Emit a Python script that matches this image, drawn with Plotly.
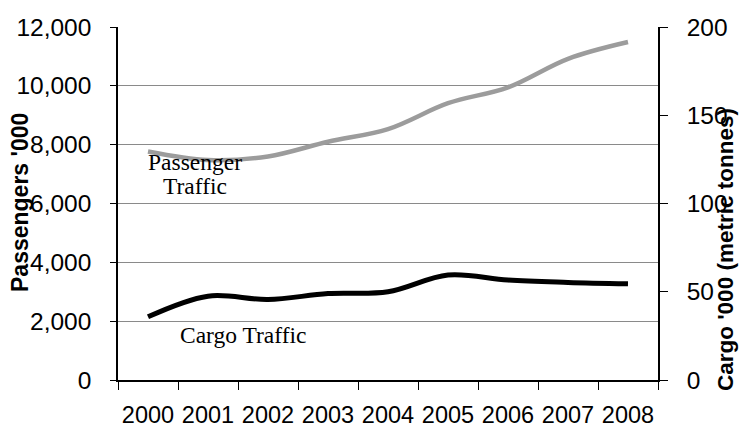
import plotly.graph_objects as go

years = ["2000", "2001", "2002", "2003", "2004", "2005", "2006", "2007", "2008"]
passengers = [7770, 7480, 7600, 8100, 8530, 9410, 9950, 10920, 11490]   # '000
cargo = [35.8, 47.5, 45.6, 49.0, 50.0, 59.5, 56.6, 55.3, 54.5]          # '000 metric tonnes

title_text = "Airport Traffic (2000-2008)"
left_title = "Passengers '000"
right_title = "Cargo '000 (metric tonnes)"

W, H = 739, 429
ML, MR, MT, MB = 118, 81, 27, 49
PW, PH = W - ML - MR, H - MT - MB

def px(x):
    return (x - ML) / PW

def py(y):
    return (H - MB - y) / PH

sans = "Liberation Sans, Arial, sans-serif"
serif = "Liberation Serif, Times New Roman, serif"

fig = go.Figure()
fig.add_trace(go.Scatter(
    x=years, y=passengers, mode="lines", name="Passenger Traffic",
    line=dict(color="#9c9c9c", width=4.5, shape="spline", smoothing=1.0),
    yaxis="y", showlegend=False, hoverinfo="skip"))
fig.add_trace(go.Scatter(
    x=years, y=cargo, mode="lines", name="Cargo Traffic",
    line=dict(color="#000000", width=5, shape="spline", smoothing=1.0),
    yaxis="y2", showlegend=False, hoverinfo="skip"))

fig.update_layout(
    width=W, height=H,
    margin=dict(l=ML, r=MR, t=MT, b=MB, pad=0, autoexpand=False),
    paper_bgcolor="white", plot_bgcolor="white",
    font=dict(family=sans, color="black"),
    xaxis=dict(type="category", range=[-0.5, 8.5], tickson="boundaries",
               ticks="outside", ticklen=8, tickwidth=1.2, tickcolor="black",
               showline=True, linecolor="black", linewidth=1.5,
               showgrid=False, zeroline=False, automargin=False, tickangle=0,
               tickfont=dict(size=23.5, family=sans), ticklabelstandoff=13),
    yaxis=dict(range=[0, 12000], dtick=2000, tickformat=",",
               ticks="outside", ticklen=6, tickwidth=1.2, tickcolor="black",
               showline=True, linecolor="black", linewidth=1.5, automargin=False,
               showgrid=True, gridcolor="#8a8a8a", gridwidth=1, zeroline=False,
               tickfont=dict(size=24.5, family=sans), ticklabelstandoff=14),
    yaxis2=dict(range=[0, 200], dtick=50, overlaying="y", side="right",
                ticks="outside", ticklen=8, tickwidth=1.2, tickcolor="black",
                showline=True, linecolor="black", linewidth=1.5, automargin=False,
                showgrid=False, zeroline=False,
                tickfont=dict(size=24.5, family=sans), ticklabelstandoff=14),
)

ann = [
    dict(text="<b>" + title_text + "</b>", x=px(686), y=py(1), xanchor="right", yanchor="bottom",
         font=dict(family=serif, size=17), borderpad=0),
    dict(text="<b>" + left_title + "</b>", x=px(20), y=py(203), textangle=-90,
         xanchor="center", yanchor="middle", font=dict(family=sans, size=23)),
    dict(text="<b>" + right_title + "</b>", x=px(726), y=py(250), textangle=-90,
         xanchor="center", yanchor="middle", font=dict(family=sans, size=22.5)),
    dict(text="Passenger", x=px(195), y=py(162), xanchor="center", yanchor="middle",
         font=dict(family=serif, size=23.5)),
    dict(text="Traffic", x=px(195), y=py(186), xanchor="center", yanchor="middle",
         font=dict(family=serif, size=23.5)),
    dict(text="Cargo Traffic", x=px(243), y=py(335), xanchor="center", yanchor="middle",
         font=dict(family=serif, size=23.5)),
]
for a in ann:
    a.update(xref="paper", yref="paper", showarrow=False)
fig.update_layout(annotations=ann)

fig.write_html("out.html", config={"displayModeBar": False},
               post_script="document.body.style.margin='0';document.body.style.overflow='hidden';")
